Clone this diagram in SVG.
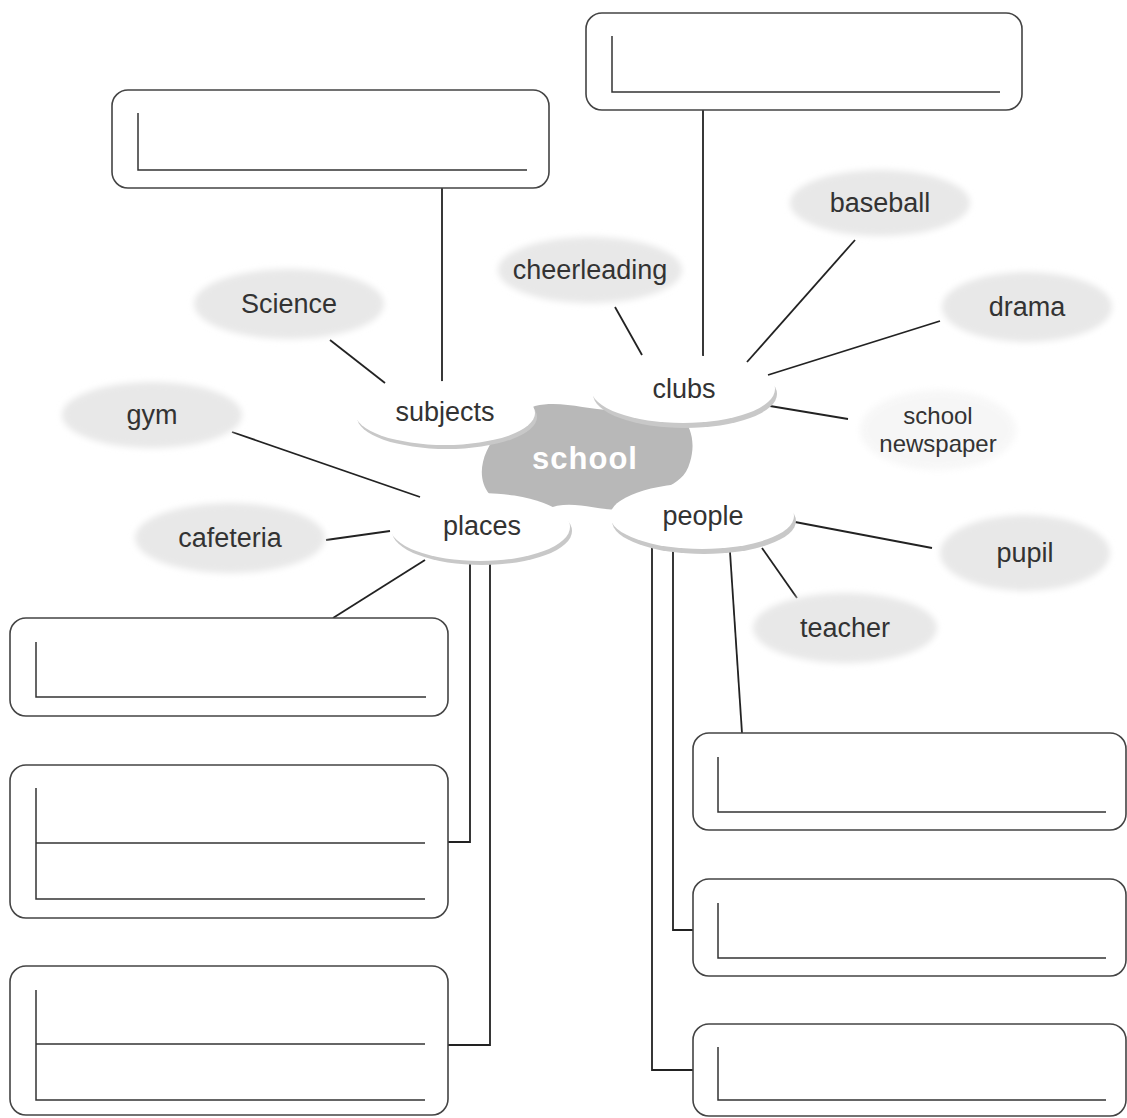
<svg xmlns="http://www.w3.org/2000/svg" width="1127" height="1118" viewBox="0 0 1127 1118">
<style>
.box{fill:#fff;stroke:#444;stroke-width:1.6}
.ln{fill:none;stroke:#333;stroke-width:1.5}
.con{fill:none;stroke:#222;stroke-width:1.8}
.leaf{fill:#e8e8e8}
.hub{fill:#fff}
.hubsh{fill:#c8c8c8}
.t{font-family:"Liberation Sans",Arial,sans-serif;font-size:27px;fill:#333;text-anchor:middle}
.t2{font-family:"Liberation Sans",Arial,sans-serif;font-size:24px;fill:#333;text-anchor:middle}
.sc{font-family:"Liberation Sans",Arial,sans-serif;font-size:31px;font-weight:900;fill:#fff;text-anchor:middle;letter-spacing:1px}
</style>
<defs>
<filter id="blur" x="-20%" y="-20%" width="140%" height="140%"><feGaussianBlur stdDeviation="3"/></filter>
</defs>
<rect width="1127" height="1118" fill="#fff"/>

<g id="connectors">
<line class="con" x1="442" y1="188" x2="442" y2="402"/>
<line class="con" x1="703" y1="110" x2="703" y2="357"/>
<line class="con" x1="330" y1="340" x2="385" y2="383"/>
<line class="con" x1="615" y1="307" x2="642" y2="355"/>
<line class="con" x1="855" y1="240" x2="747" y2="362"/>
<line class="con" x1="940" y1="321" x2="768" y2="375"/>
<line class="con" x1="770" y1="406" x2="848" y2="419"/>
<line class="con" x1="232" y1="432" x2="420" y2="497"/>
<line class="con" x1="326" y1="540" x2="390" y2="531"/>
<line class="con" x1="425" y1="560" x2="333" y2="618"/>
<polyline class="con" points="470,563 470,842 448,842"/>
<polyline class="con" points="490,563 490,1045 448,1045"/>
<line class="con" x1="795" y1="522" x2="932" y2="548"/>
<line class="con" x1="762" y1="548" x2="797" y2="598"/>
<polyline class="con" points="652,548 652,1070 693,1070"/>
<polyline class="con" points="673,550 673,930 693,930"/>
<line class="con" x1="730" y1="552" x2="742" y2="733"/>
</g>

<g id="box-clubs"><rect class="box" x="586" y="13" width="436" height="97" rx="16"/><polyline class="ln" points="612,36 612,92 1000,92"/></g>
<g id="box-subjects"><rect class="box" x="112" y="90" width="437" height="98" rx="16"/><polyline class="ln" points="138,113 138,170 527,170"/></g>
<g id="box-places-1"><rect class="box" x="10" y="618" width="438" height="98" rx="16"/><polyline class="ln" points="36,642 36,697 426,697"/></g>
<g id="box-places-2"><rect class="box" x="10" y="765" width="438" height="153" rx="16"/><polyline class="ln" points="36,788 36,899 425,899"/><line class="ln" x1="36" y1="843" x2="425" y2="843"/></g>
<g id="box-places-3"><rect class="box" x="10" y="966" width="438" height="149" rx="16"/><polyline class="ln" points="36,990 36,1100 425,1100"/><line class="ln" x1="36" y1="1044" x2="425" y2="1044"/></g>
<g id="box-people-1"><rect class="box" x="693" y="733" width="433" height="97" rx="16"/><polyline class="ln" points="718,757 718,812 1106,812"/></g>
<g id="box-people-2"><rect class="box" x="693" y="879" width="433" height="97" rx="16"/><polyline class="ln" points="718,903 718,958 1106,958"/></g>
<g id="box-people-3"><rect class="box" x="693" y="1024" width="433" height="92" rx="16"/><polyline class="ln" points="718,1047 718,1100 1106,1100"/></g>

<g id="leaf-science"><ellipse class="leaf" cx="289" cy="304" rx="95" ry="35" filter="url(#blur)"/><text class="t" x="289" y="313">Science</text></g>
<g id="leaf-cheerleading"><ellipse class="leaf" cx="590" cy="270" rx="92" ry="33" filter="url(#blur)"/><text class="t" x="590" y="279">cheerleading</text></g>
<g id="leaf-baseball"><ellipse class="leaf" cx="880" cy="203" rx="90" ry="33" filter="url(#blur)"/><text class="t" x="880" y="212">baseball</text></g>
<g id="leaf-drama"><ellipse class="leaf" cx="1027" cy="307" rx="85" ry="35" filter="url(#blur)"/><text class="t" x="1027" y="316">drama</text></g>
<g id="leaf-newspaper"><ellipse class="leaf" cx="938" cy="430" rx="78" ry="40" filter="url(#blur)" opacity="0.35"/><text class="t2" x="938" y="424">school</text><text class="t2" x="938" y="452">newspaper</text></g>
<g id="leaf-gym"><ellipse class="leaf" cx="152" cy="415" rx="90" ry="33" filter="url(#blur)"/><text class="t" x="152" y="424">gym</text></g>
<g id="leaf-cafeteria"><ellipse class="leaf" cx="230" cy="538" rx="95" ry="35" filter="url(#blur)"/><text class="t" x="230" y="547">cafeteria</text></g>
<g id="leaf-pupil"><ellipse class="leaf" cx="1025" cy="553" rx="85" ry="38" filter="url(#blur)"/><text class="t" x="1025" y="562">pupil</text></g>
<g id="leaf-teacher"><ellipse class="leaf" cx="845" cy="628" rx="92" ry="35" filter="url(#blur)"/><text class="t" x="845" y="637">teacher</text></g>

<g id="school"><path d="M535,406 C570,398 600,418 640,406 C680,398 700,430 690,462 C682,492 650,485 640,508 C600,516 575,496 545,510 C500,516 476,492 483,462 C488,440 510,416 535,406 Z" fill="#b8b8b8"/><text class="sc" x="585" y="469">school</text></g>

<g id="hub-subjects"><ellipse class="hubsh" cx="447" cy="417" rx="90" ry="32"/><ellipse class="hub" cx="445" cy="413" rx="90" ry="32"/><text class="t" x="445" y="421">subjects</text></g>
<g id="hub-clubs"><ellipse class="hubsh" cx="685" cy="394" rx="92" ry="34"/><ellipse class="hub" cx="683" cy="389" rx="92" ry="34"/><text class="t" x="684" y="398">clubs</text></g>
<g id="hub-places"><ellipse class="hubsh" cx="482" cy="531" rx="90" ry="34"/><ellipse class="hub" cx="480" cy="527" rx="90" ry="34"/><text class="t" x="482" y="535">places</text></g>
<g id="hub-people"><ellipse class="hubsh" cx="704" cy="521" rx="92" ry="33"/><ellipse class="hub" cx="702" cy="516" rx="92" ry="33"/><text class="t" x="703" y="525">people</text></g>
</svg>
